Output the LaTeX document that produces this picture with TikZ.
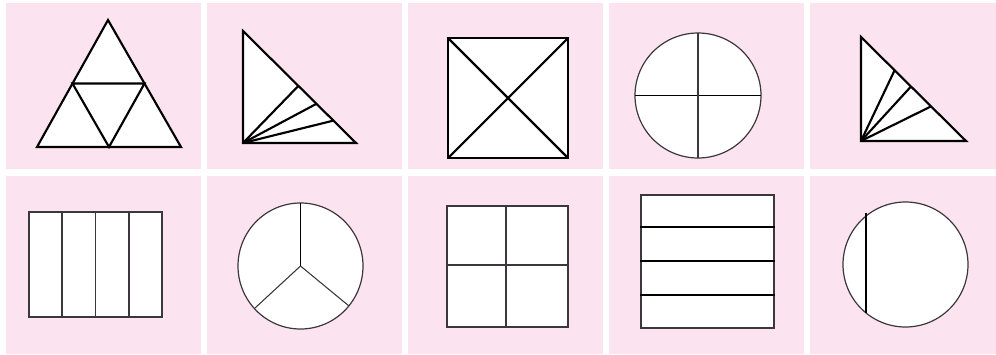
\documentclass[tikz,border=0pt]{standalone}
\usetikzlibrary{calc}
\definecolor{panelpink}{RGB}{252,227,240}
\definecolor{thinline}{RGB}{60,55,60}
\tikzset{
  panel/.style={fill=panelpink, draw=none},
  thickline/.style={line width=1.6pt, draw=black, line join=miter},
  thinline/.style={line width=0.8pt, draw=thinline},
  shapefill/.style={fill=white},
}
\begin{document}
\begin{tikzpicture}[x=0.75pt,y=-0.75pt]
\useasboundingbox (0,0) rectangle (996,354);
\fill[white] (0,0) rectangle (996,354);
% panels
\foreach \a/\b in {6/201,207/402,408/603,609/804,810/996}{
  \fill[panelpink] (\a,3) rectangle (\b,169);
  \fill[panelpink] (\a,176) rectangle (\b,354);
}
% ---- Panel 1: triangle in four
\coordinate (t1a) at (108,20);
\coordinate (t1b) at (37,147);
\coordinate (t1c) at (181,147);
\filldraw[shapefill, thickline] (t1a) -- (t1b) -- (t1c) -- cycle;
\draw[thickline] ($(t1a)!0.5!(t1b)$) -- ($(t1a)!0.5!(t1c)$) -- ($(t1b)!0.5!(t1c)$) -- cycle;
% ---- Panel 2: right triangle with rays
\coordinate (t2a) at (243,31);
\coordinate (t2o) at (243,143);
\coordinate (t2b) at (356,143);
\filldraw[shapefill, thickline] (t2a) -- (t2o) -- (t2b) -- cycle;
\foreach \t in {0.49,0.65,0.80}{
  \draw[thickline] (t2o) -- ($(t2a)!\t!(t2b)$);
}
% ---- Panel 3: square with diagonals
\coordinate (s3a) at (448,38);
\coordinate (s3c) at (568,158);
\filldraw[shapefill, thickline] (s3a) rectangle (s3c);
\draw[thickline] (s3a) -- (s3c);
\draw[thickline] (448,158) -- (568,38);
% ---- Panel 4: circle in quarters
\coordinate (c4) at (698,95.5);
\filldraw[shapefill, line width=0.9pt, draw=thinline] (c4) ellipse [x radius=63, y radius=62.5];
\draw[thickline, line width=1.3pt] (635,95.5) -- (761,95.5);
\draw[thinline] (698,33) -- (698,158);
% ---- Panel 5: right triangle with rays
\coordinate (t5a) at (861,37);
\coordinate (t5o) at (861,141);
\coordinate (t5b) at (966,141);
\filldraw[shapefill, thickline] (t5a) -- (t5o) -- (t5b) -- cycle;
\foreach \t in {0.32,0.476,0.667}{
  \draw[thickline] (t5o) -- ($(t5a)!\t!(t5b)$);
}
% ---- Panel 6: rectangle in four strips
\filldraw[shapefill, thinline] (29,212) rectangle (162,317);
\foreach \x in {62,95.5,129}{
  \draw[thinline] (\x,212) -- (\x,317);
}
% ---- Panel 7: circle in thirds
\coordinate (c7) at (300.5,266);
\filldraw[shapefill, line width=0.9pt, draw=thinline] (c7) ellipse [x radius=62.5, y radius=63];
\draw[thickline, line width=1.4pt] (c7) -- (300.5,203);
\draw[thinline] (c7) -- (255,308);
\draw[thinline] (c7) -- (349,306);
% ---- Panel 8: square in quarters
\filldraw[shapefill, thinline] (447,206) rectangle (568,327);
\draw[thinline] (506,206) -- (506,327);
\draw[thinline] (447,265) -- (568,265);
% ---- Panel 9: rectangle with horizontal lines
\filldraw[shapefill, thinline] (641,195) rectangle (774,328);
\foreach \y in {227,260.5,295}{
  \draw[thickline, line width=1.5pt] (640,\y) -- (775,\y);
}
% ---- Panel 10: circle with chord
\coordinate (c10) at (905.5,264.5);
\filldraw[shapefill, line width=0.9pt, draw=thinline] (c10) circle [radius=62.5];
\draw[thickline, line width=1.4pt] (866,213) -- (866,313);
\end{tikzpicture}
\end{document}
